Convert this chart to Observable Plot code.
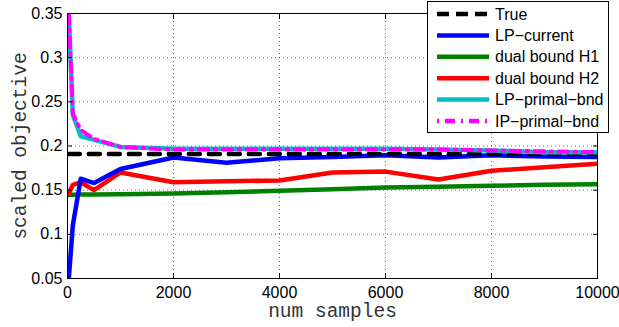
<!DOCTYPE html>
<html>
<head>
<meta charset="utf-8">
<script src="https://cdn.jsdelivr.net/npm/d3@7"></script>
<script src="https://cdn.jsdelivr.net/npm/@observablehq/plot@0.6"></script>
<style>
  body { margin: 0; background: #fff; }
  #wrap { position: relative; width: 619px; height: 327px; }
  #legend { position: absolute; left: 427px; top: 1px; }
</style>
</head>
<body>
<div id="wrap"></div>
<script>
// ---- data ----
const samples = [25, 100, 250, 500, 1000, 2000, 3000, 4000, 5000, 6000, 7000, 8000, 9000, 10000];
const trueX = [25, 10000];
const trueVal = [0.191, 0.191];
const lpCurrent = [0.05, 0.11, 0.163, 0.158, 0.174, 0.187, 0.181, 0.186, 0.1875, 0.1895, 0.187, 0.1895, 0.188, 0.1875];
const dualH1 = [0.1445, 0.1447, 0.145, 0.1452, 0.1455, 0.1462, 0.1477, 0.1492, 0.151, 0.153, 0.154, 0.155, 0.156, 0.1568];
const dualH2 = [0.146, 0.156, 0.159, 0.150, 0.170, 0.159, 0.160, 0.161, 0.170, 0.171, 0.162, 0.172, 0.176, 0.180];
const lpPrimal = [0.35, 0.235, 0.211, 0.207, 0.199, 0.197, 0.197, 0.197, 0.197, 0.197, 0.196, 0.195, 0.193, 0.193];
const ipPrimal = [0.35, 0.237, 0.218, 0.208, 0.199, 0.196, 0.196, 0.196, 0.196, 0.196, 0.196, 0.195, 0.194, 0.193];
const xTicks = [0, 2000, 4000, 6000, 8000, 10000];
const xTickLabels = ["0", "2000", "4000", "6000", "8000", "10000"];
const yTicks = [0.05, 0.1, 0.15, 0.2, 0.25, 0.3, 0.35];
const yTickLabels = ["0.05", "0.1", "0.15", "0.2", "0.25", "0.3", "0.35"];
const seriesNames = ["True", "LP\u2212current", "dual bound H1", "dual bound H2", "LP\u2212primal\u2212bnd", "IP\u2212primal\u2212bnd"];

const toRows = (xs, ys) => xs.map((x, i) => ({x, y: ys[i]}));
const tickFont = "Liberation Sans, Arial, sans-serif";
const monoFont = "Liberation Mono, Courier New, monospace";

const plot = Plot.plot({
  width: 619,
  height: 327,
  marginLeft: 67,
  marginRight: 22,
  marginTop: 13,
  marginBottom: 49,
  style: {fontFamily: tickFont, fontSize: "16px", background: "#fff", overflow: "visible"},
  x: {domain: [0, 10000]},
  y: {domain: [0.05, 0.35]},
  marks: [
    Plot.gridX(xTicks, {stroke: "#000", strokeOpacity: 0.55, strokeDasharray: "1,3"}),
    Plot.gridY(yTicks, {stroke: "#000", strokeOpacity: 0.55, strokeDasharray: "1,3"}),
    Plot.line(toRows(samples, dualH1), {x: "x", y: "y", stroke: "#008000", strokeWidth: 4.5, clip: true}),
    Plot.line(toRows(samples, dualH2), {x: "x", y: "y", stroke: "#ff0000", strokeWidth: 4.5, clip: true}),
    Plot.line(toRows(samples, lpCurrent), {x: "x", y: "y", stroke: "#0000ff", strokeWidth: 4.5, clip: true}),
    Plot.line(toRows(trueX, trueVal), {x: "x", y: "y", stroke: "#000", strokeWidth: 4.5, strokeDasharray: "11,9", clip: true}),
    Plot.line(toRows(samples, lpPrimal), {x: "x", y: "y", stroke: "#00bfbf", strokeWidth: 4.5, clip: true}),
    Plot.line(toRows(samples, ipPrimal), {x: "x", y: "y", stroke: "#ff00ff", strokeWidth: 4, strokeDasharray: "10,6,2,6", clip: true}),
    Plot.frame({stroke: "#000", strokeWidth: 1}),
    // inward ticks on all four sides
    Plot.axisX(xTicks, {anchor: "bottom", tickSize: -5, tickFormat: () => "", label: null}),
    Plot.axisX(xTicks, {anchor: "top", tickSize: -5, tickFormat: () => "", label: null}),
    Plot.axisY(yTicks, {anchor: "left", tickSize: -5, tickFormat: () => "", label: null}),
    Plot.axisY(yTicks, {anchor: "right", tickSize: -5, tickFormat: () => "", label: null}),
    // tick labels
    Plot.axisX(xTicks, {anchor: "bottom", tickSize: 0, tickPadding: 8, label: null, fontSize: 16,
      tickFormat: (d) => xTickLabels[xTicks.indexOf(d)]}),
    Plot.axisY(yTicks, {anchor: "left", tickSize: 0, tickPadding: 5, label: null, fontSize: 16,
      tickFormat: (d) => yTickLabels[yTicks.indexOf(d)]}),
    // axis titles
    Plot.text(["scaled objective"], {text: d => d, frameAnchor: "left", dx: -48, rotate: -90,
      textAnchor: "middle", lineAnchor: "middle", fontFamily: monoFont, fontSize: 19.5, fill: "#333"}),
    Plot.text(["num samples"], {text: d => d, frameAnchor: "bottom", dy: 32.5,
      textAnchor: "middle", lineAnchor: "middle", fontFamily: monoFont, fontSize: 19.5, fill: "#333"})
  ]
});
document.getElementById("wrap").appendChild(plot);

// ---- legend ----
const legendStyles = [
  {stroke: "#000", dash: "12,7"},
  {stroke: "#0000ff", dash: null},
  {stroke: "#008000", dash: null},
  {stroke: "#ff0000", dash: null},
  {stroke: "#00bfbf", dash: null},
  {stroke: "#ff00ff", dash: "2,6,10,6"}
];
const lw = 182, lh = 132;
const leg = d3.select("#wrap").append("svg")
  .attr("id", "legend").attr("width", lw).attr("height", lh);
leg.append("rect").attr("x", 0.5).attr("y", 0.5).attr("width", lw - 1).attr("height", lh - 1)
  .attr("fill", "#fff").attr("stroke", "#000");
seriesNames.forEach((name, i) => {
  const cy = 13 + i * 21.4;
  const s = legendStyles[i];
  const ln = leg.append("line").attr("x1", 10).attr("x2", 62).attr("y1", cy).attr("y2", cy)
    .attr("stroke", s.stroke).attr("stroke-width", 4.5);
  if (s.dash) ln.attr("stroke-dasharray", s.dash);
  leg.append("text").attr("x", 68).attr("y", cy).attr("dy", "0.35em")
    .attr("font-family", tickFont).attr("font-size", 16).attr("fill", "#000").text(name);
});
</script>
</body>
</html>
